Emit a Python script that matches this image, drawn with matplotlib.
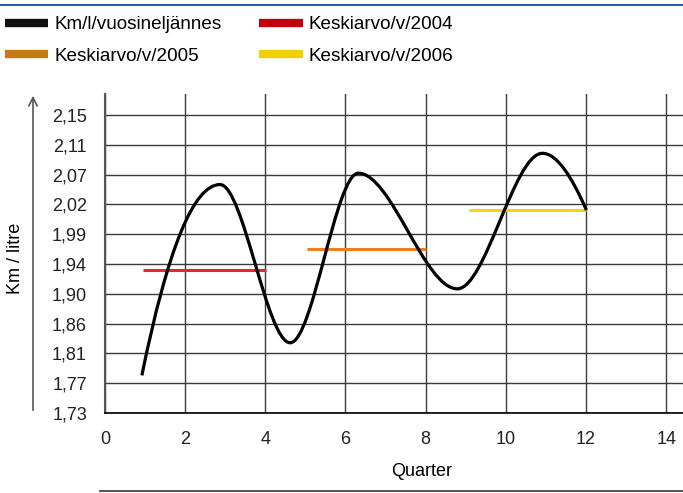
import numpy as np
import matplotlib
matplotlib.use('Agg')
import matplotlib.pyplot as plt
from matplotlib.path import Path
from matplotlib.patches import PathPatch, FancyArrowPatch
from matplotlib.lines import Line2D

plt.rcParams['font.family'] = ['Liberation Sans', 'DejaVu Sans']

# turning points of the km/l curve (quarter, km per litre)
quarter = [0.92, 2.87, 4.62, 6.32, 8.79, 10.91, 12.01]
km_per_litre = [1.783, 2.052, 1.829, 2.068, 1.905, 2.096, 2.016]

# yearly averages: value, first quarter, last quarter
years = ['2004', '2005', '2006']
year_avg = [1.932, 1.961, 2.016]
year_start = [0.96, 5.04, 9.07]
year_end = [4.02, 8.00, 12.00]
year_colors = ['#e52531', '#e8821e', '#ffd200']
legend_colors = ['#c0000f', '#c87814', '#f0d000']

ytick_vals = [1.73 + 0.042 * i for i in range(11)]
ytick_labels = ['1,73', '1,77', '1,81', '1,86', '1,90', '1,94',
                '1,99', '2,02', '2,07', '2,11', '2,15']
xtick_vals = [0, 2, 4, 6, 8, 10, 12, 14]

W, H = 683, 493
fig = plt.figure(figsize=(W / 100, H / 100), dpi=100)
ax = fig.add_axes([105 / W, 1 - 413 / H, 1 - 105 / W, (413 - 94) / H])

ax.set_xlim(0, 14.42)
ax.set_ylim(1.73, 2.15 + 0.042 * 21 / 29.8)

ax.set_xticks(xtick_vals)
ax.set_xticklabels([str(v) for v in xtick_vals], fontsize=13)
ax.set_yticks(ytick_vals)
ax.set_yticklabels(ytick_labels, fontsize=13)
ax.tick_params(length=0, pad=13, colors='#222222')
ax.grid(True, color='#3a3a3a', lw=1.0)
ax.set_axisbelow(True)
for s in ['top', 'right']:
    ax.spines[s].set_visible(False)
ax.spines['left'].set_color('#555555')
ax.spines['left'].set_linewidth(1.5)
ax.spines['bottom'].set_color('#111111')
ax.spines['bottom'].set_linewidth(1.3)

# smooth line: shape preserving cubic (pchip slopes) drawn as Bezier segments
x = np.array(quarter)
y = np.array(km_per_litre)
h = np.diff(x)
d = np.diff(y) / h
m = np.zeros_like(y)
for k in range(1, len(x) - 1):
    if d[k - 1] * d[k] > 0:
        w1 = 2 * h[k] + h[k - 1]
        w2 = h[k] + 2 * h[k - 1]
        m[k] = (w1 + w2) / (w1 / d[k - 1] + w2 / d[k])


def end_slope(h0, h1, d0, d1):
    s = ((2 * h0 + h1) * d0 - h0 * d1) / (h0 + h1)
    if np.sign(s) != np.sign(d0):
        return 0.0
    if np.sign(d0) != np.sign(d1) and abs(s) > 3 * abs(d0):
        return 3 * d0
    return s


m[0] = end_slope(h[0], h[1], d[0], d[1])
m[-1] = end_slope(h[-1], h[-2], d[-1], d[-2])

verts = [(x[0], y[0])]
codes = [Path.MOVETO]
for k in range(len(x) - 1):
    verts += [(x[k] + h[k] / 3, y[k] + m[k] * h[k] / 3),
              (x[k + 1] - h[k] / 3, y[k + 1] - m[k + 1] * h[k] / 3),
              (x[k + 1], y[k + 1])]
    codes += [Path.CURVE4] * 3
ax.add_patch(PathPatch(Path(verts, codes), fill=False, color='black', lw=2.3,
                       capstyle='butt', zorder=4))

for avg, x0, x1, c in zip(year_avg, year_start, year_end, year_colors):
    ax.hlines(avg, x0, x1, colors=c, lw=2.2, zorder=3)

fig.text(422 / W, 1 - 471 / H, 'Quarter', fontsize=13, ha='center', va='center')
fig.text(15 / W, 1 - 258 / H, 'Km / litre', rotation=90, fontsize=13,
         ha='center', va='center')

# axis arrows outside the plot
fig.add_artist(FancyArrowPatch(
    (33 / W, 1 - 413 / H), (33 / W, 1 - 93 / H), transform=fig.transFigure,
    arrowstyle='->,head_length=6,head_width=3', color='#555555', lw=1.2,
    mutation_scale=1))
fig.add_artist(Line2D([100 / W, 1.0], [1 - 491 / H, 1 - 491 / H],
                      transform=fig.transFigure, color='#444444', lw=1.3))

# blue rule at the very top
fig.add_artist(Line2D([0, 1], [1 - 5 / H, 1 - 5 / H], transform=fig.transFigure,
                      color='#1f5fa6', lw=1.5))

handles = [Line2D([], [], color='#111111', lw=6, solid_capstyle='butt')]
labels = ['Km/l/vuosineljännes']
for yr, c in zip(years, legend_colors):
    handles.append(Line2D([], [], color=c, lw=6, solid_capstyle='butt'))
    labels.append('Keskiarvo/v/' + yr)
order = [0, 2, 1, 3]
fig.legend([handles[i] for i in order], [labels[i] for i in order],
           loc='upper left', bbox_to_anchor=(5 / W, 1 - 16 / H), ncol=2,
           frameon=False, fontsize=13.6, handlelength=2.3, handletextpad=0.3,
           columnspacing=2.0, labelspacing=0.75, borderpad=0, borderaxespad=0)

fig.savefig('out.png', dpi=100)
